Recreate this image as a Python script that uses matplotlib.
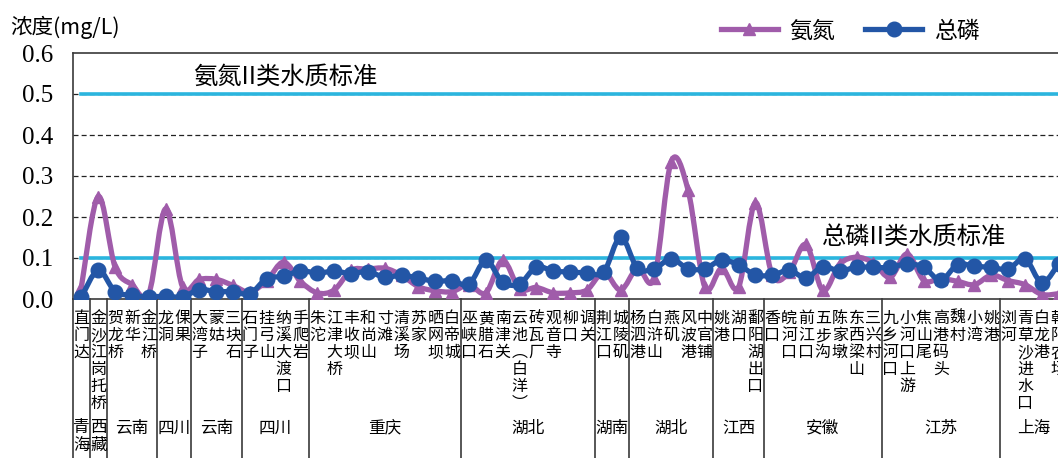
import matplotlib
matplotlib.use("Agg")
import matplotlib.pyplot as plt
import matplotlib.transforms as mtransforms
from matplotlib.path import Path
from matplotlib.patches import PathPatch
from matplotlib.lines import Line2D
import numpy as np

# ---------------- data ----------------
stations = [
    "直门达", "金沙江岗托桥", "贺龙桥", "新华", "金江桥", "龙洞", "倮果", "大湾子", "蒙姑", "三块石",
    "石门子", "挂弓山", "纳溪大渡口", "手爬岩", "朱沱", "江津大桥", "丰收坝", "和尚山", "寸滩", "清溪场",
    "苏家", "晒网坝", "白帝城", "巫峡口", "黄腊石", "南津关", "云池︵白洋︶", "砖瓦厂", "观音寺", "柳口",
    "调关", "荆江口", "城陵矶", "杨泗港", "白浒山", "燕矶", "风波港", "中官铺", "姚港", "湖口",
    "鄱阳湖出口", "香口", "皖河口", "前江口", "五步沟", "陈家墩", "东西梁山", "三兴村", "九乡河口", "小河口上游",
    "焦山尾", "高港码头", "魏村", "小湾", "姚港", "浏河", "青草沙进水口", "白龙港", "朝阳农场",
]

ammonia = [
    0.030, 0.250, 0.078, 0.035, 0.013, 0.220, 0.030, 0.048, 0.048, 0.033,
    0.017, 0.045, 0.090, 0.043, 0.015, 0.022, 0.070, 0.073, 0.075, 0.058,
    0.030, 0.020, 0.018, 0.035, 0.015, 0.094, 0.025, 0.028, 0.015, 0.015,
    0.022, 0.065, 0.022, 0.075, 0.052, 0.335, 0.266, 0.029, 0.075, 0.029,
    0.235, 0.058, 0.065, 0.133, 0.021, 0.085, 0.102, 0.088, 0.053, 0.110,
    0.045, 0.050, 0.043, 0.035, 0.058, 0.045, 0.035, 0.011, 0.013,
]

phosphorus = [
    0.005, 0.070, 0.018, 0.009, 0.005, 0.007, 0.005, 0.023, 0.018, 0.018,
    0.013, 0.050, 0.055, 0.069, 0.063, 0.068, 0.062, 0.067, 0.053, 0.058,
    0.051, 0.043, 0.045, 0.036, 0.094, 0.041, 0.037, 0.078, 0.068, 0.066,
    0.064, 0.066, 0.151, 0.075, 0.074, 0.098, 0.074, 0.074, 0.095, 0.083,
    0.059, 0.058, 0.070, 0.052, 0.079, 0.068, 0.078, 0.077, 0.077, 0.086,
    0.077, 0.046, 0.084, 0.080, 0.077, 0.073, 0.098, 0.040, 0.086,
]

province_names = ["青海", "西藏", "云南", "四川", "云南", "四川", "重庆", "湖北",
                  "湖南", "湖北", "江西", "安徽", "江苏", "上海"]
province_first = [0, 1, 2, 5, 7, 10, 14, 23, 31, 33, 38, 41, 48, 55]
province_last = [0, 1, 4, 6, 9, 13, 22, 30, 32, 37, 40, 47, 54, 58]

ammonia_standard = 0.5
phosphorus_standard = 0.1
series_names = ["氨氮", "总磷"]
y_ticks = [0.0, 0.1, 0.2, 0.3, 0.4, 0.5, 0.6]

# ---------------- style ----------------
CJK = ["Noto Sans CJK SC", "DejaVu Sans"]
SERIF = ["Liberation Serif", "DejaVu Serif"]
PURPLE = "#A05CAA"
BLUE = "#2356A6"
CYAN = "#2BB5DE"
EDGE = "#3a3a3a"

W, H = 1058, 458
fig = plt.figure(figsize=(W / 100, H / 100), dpi=100)
ax_left, ax_bottom, ax_top = 73, 299, 53
ax = fig.add_axes([ax_left / W, (H - ax_bottom) / H, (W - ax_left) / W, (ax_bottom - ax_top) / H])
cat_w = 16.85
ax.set_xlim(-0.5, -0.5 + (W - ax_left) / cat_w)
ax.set_ylim(0, 0.6)

ax.spines["right"].set_visible(False)
for s in ["top", "left", "bottom"]:
    ax.spines[s].set_color(EDGE)
    ax.spines[s].set_linewidth(1.2)

ax.set_xticks([])
ax.set_yticks(y_ticks)
ax.set_yticklabels([f"{v:.1f}" for v in y_ticks], family=SERIF, fontsize=18)
ax.tick_params(axis="y", length=0, pad=14)

# dashed grid
for v in y_ticks[1:-1]:
    ax.axhline(v, color="#222222", lw=0.9, ls=(0, (4, 2.5)), zorder=1)

x = np.arange(len(stations))
ax.plot(x, [ammonia_standard] * len(x), color=CYAN, lw=2.6, zorder=2)
ax.plot(x, [phosphorus_standard] * len(x), color=CYAN, lw=2.6, zorder=2)


def smooth_path(xs, ys, t=1 / 6):
    pts = np.column_stack([xs, ys]).astype(float)
    n = len(pts)
    verts = [pts[0]]
    codes = [Path.MOVETO]
    for i in range(n - 1):
        p0 = pts[max(i - 1, 0)]
        p1 = pts[i]
        p2 = pts[i + 1]
        p3 = pts[min(i + 2, n - 1)]
        c1 = p1 + (p2 - p0) * t
        c2 = p2 - (p3 - p1) * t
        verts += [c1, c2, p2]
        codes += [Path.CURVE4] * 3
    return Path(verts, codes)


for vals, color, marker, ms, z in [(ammonia, PURPLE, "^", 9, 3), (phosphorus, BLUE, "o", 10.5, 4)]:
    ax.add_patch(PathPatch(smooth_path(x, vals), fill=False, edgecolor=color, lw=3.8,
                           zorder=z, capstyle="round", joinstyle="round"))
    ax.plot(x, vals, ls="none", marker=marker, ms=ms, color=color, zorder=z)

# standard annotations
ax.text(6.62, 0.543, "氨氮II类水质标准", family=CJK, fontsize=17.5, va="center", ha="left", zorder=5)
ax.text(43.95, 0.151, "总磷II类水质标准", family=CJK, fontsize=17.5, va="center", ha="left", zorder=5)

# ---------------- category table below axis ----------------
trans = mtransforms.blended_transform_factory(ax.transData, ax.transAxes)
px = 1.0 / (ax_bottom - ax_top)  # one pixel in axes fraction (vertical)

for i, name in enumerate(stations):
    ax.text(i, -11 * px, "\n".join(name), transform=trans, family=CJK, fontsize=11.5,
            ha="center", va="top", linespacing=1.0, clip_on=False)

bounds = [-0.5] + [f - 0.5 for f in province_first[1:]]
for b in bounds:
    ax.plot([b, b], [0, -0.75], transform=trans, color=EDGE, lw=1.2, clip_on=False)

for name, a, b in zip(province_names, province_first, province_last):
    cx = (a + b) / 2
    if a == b:
        ax.text(cx, -120 * px, "\n".join(name), transform=trans, family=CJK, fontsize=12,
                ha="center", va="top", linespacing=1.05, clip_on=False)
    else:
        ax.text(cx, -129 * px, name, transform=trans, family=CJK, fontsize=12,
                ha="center", va="center", clip_on=False)

# y label
fig.text(10 / W, 1 - 27 / H, "浓度(mg/L)", family=CJK, fontsize=15.5, ha="left", va="center")

# legend
handles = [
    Line2D([], [], color=PURPLE, lw=3.8, marker="^", ms=9),
    Line2D([], [], color=BLUE, lw=3.8, marker="o", ms=10.5),
]
fig.legend(handles, series_names, loc="center", bbox_to_anchor=(850 / W, 1 - 31 / H),
           ncol=2, frameon=False, prop={"family": CJK, "size": 16.5},
           handlelength=2.5, handletextpad=0.5, columnspacing=1.3)

fig.savefig("out.png", dpi=100)
